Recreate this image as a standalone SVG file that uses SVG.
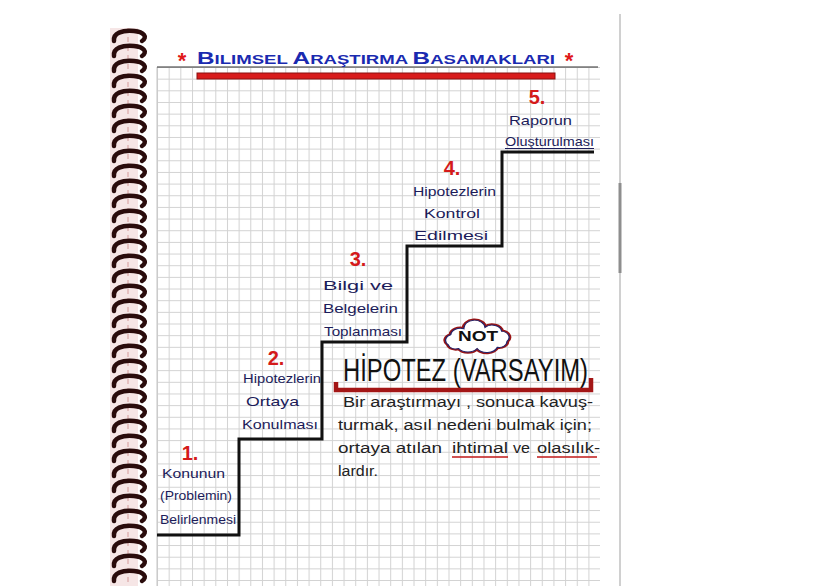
<svg xmlns="http://www.w3.org/2000/svg" width="828" height="586" viewBox="0 0 828 586">
<defs>
<pattern id="grid" x="157" y="67" width="11.66" height="11.66" patternUnits="userSpaceOnUse">
<path d="M0,0.5 H11.66 M0.5,0 V11.66" fill="none" stroke="#d2d2d2" stroke-width="1"/>
</pattern>
<path id="cloud" d="M444,346 a9,9 0 0 1 3,-15 a11,11 0 0 1 15,-9 a12,12 0 0 1 24,-2 a11,11 0 0 1 19,6 a9,9 0 0 1 6,15 a9,9 0 0 1 -11,9 a13,13 0 0 1 -23,2 a13,13 0 0 1 -21,0 a9,9 0 0 1 -12,-6 z"/>
<style>
.lbl{font-family:"Liberation Sans",Arial,sans-serif;font-size:13px;fill:#1c1c5a}
.num{font-family:"Liberation Sans",Arial,sans-serif;font-size:20px;font-weight:bold;fill:#d41a1a}
.par{font-family:"Liberation Sans",Arial,sans-serif;font-size:14px;fill:#222}
.coil{fill:none;stroke:#2a0c0c;stroke-width:4.5;stroke-linecap:round}
</style>
</defs>
<rect width="828" height="586" fill="#fff"/>
<!-- binding strip -->
<rect x="110" y="28" width="28" height="558" fill="#f6e6e6"/>
<line x1="128" y1="28" x2="128" y2="586" stroke="#e0b4b4" stroke-width="1.5" stroke-dasharray="5 4"/>
<!-- grid -->
<rect x="157" y="67" width="443" height="519" fill="url(#grid)"/>
<line x1="157" y1="67" x2="157" y2="586" stroke="#c4c4c4" stroke-width="1"/>
<!-- spiral coils -->
<g id="spiral">
<path class="coil" d="M114,41 C113,33 122,30 134,31 C144,32 148,37 142,41"/>
<path class="coil" d="M114,56 C113,48 122,45 134,46 C144,47 148,52 142,56"/>
<path class="coil" d="M114,71 C113,63 122,60 134,61 C144,62 148,67 142,71"/>
<path class="coil" d="M114,86 C113,78 122,75 134,76 C144,77 148,82 142,86"/>
<path class="coil" d="M114,101 C113,93 122,90 134,91 C144,92 148,97 142,101"/>
<path class="coil" d="M114,116 C113,108 122,105 134,106 C144,107 148,112 142,116"/>
<path class="coil" d="M114,131 C113,123 122,120 134,121 C144,122 148,127 142,131"/>
<path class="coil" d="M114,146 C113,138 122,135 134,136 C144,137 148,142 142,146"/>
<path class="coil" d="M114,161 C113,153 122,150 134,151 C144,152 148,157 142,161"/>
<path class="coil" d="M114,176 C113,168 122,165 134,166 C144,167 148,172 142,176"/>
<path class="coil" d="M114,191 C113,183 122,180 134,181 C144,182 148,187 142,191"/>
<path class="coil" d="M114,206 C113,198 122,195 134,196 C144,197 148,202 142,206"/>
<path class="coil" d="M114,221 C113,213 122,210 134,211 C144,212 148,217 142,221"/>
<path class="coil" d="M114,236 C113,228 122,225 134,226 C144,227 148,232 142,236"/>
<path class="coil" d="M114,251 C113,243 122,240 134,241 C144,242 148,247 142,251"/>
<path class="coil" d="M114,266 C113,258 122,255 134,256 C144,257 148,262 142,266"/>
<path class="coil" d="M114,281 C113,273 122,270 134,271 C144,272 148,277 142,281"/>
<path class="coil" d="M114,296 C113,288 122,285 134,286 C144,287 148,292 142,296"/>
<path class="coil" d="M114,311 C113,303 122,300 134,301 C144,302 148,307 142,311"/>
<path class="coil" d="M114,326 C113,318 122,315 134,316 C144,317 148,322 142,326"/>
<path class="coil" d="M114,341 C113,333 122,330 134,331 C144,332 148,337 142,341"/>
<path class="coil" d="M114,356 C113,348 122,345 134,346 C144,347 148,352 142,356"/>
<path class="coil" d="M114,371 C113,363 122,360 134,361 C144,362 148,367 142,371"/>
<path class="coil" d="M114,386 C113,378 122,375 134,376 C144,377 148,382 142,386"/>
<path class="coil" d="M114,401 C113,393 122,390 134,391 C144,392 148,397 142,401"/>
<path class="coil" d="M114,416 C113,408 122,405 134,406 C144,407 148,412 142,416"/>
<path class="coil" d="M114,431 C113,423 122,420 134,421 C144,422 148,427 142,431"/>
<path class="coil" d="M114,446 C113,438 122,435 134,436 C144,437 148,442 142,446"/>
<path class="coil" d="M114,461 C113,453 122,450 134,451 C144,452 148,457 142,461"/>
<path class="coil" d="M114,476 C113,468 122,465 134,466 C144,467 148,472 142,476"/>
<path class="coil" d="M114,491 C113,483 122,480 134,481 C144,482 148,487 142,491"/>
<path class="coil" d="M114,506 C113,498 122,495 134,496 C144,497 148,502 142,506"/>
<path class="coil" d="M114,521 C113,513 122,510 134,511 C144,512 148,517 142,521"/>
<path class="coil" d="M114,536 C113,528 122,525 134,526 C144,527 148,532 142,536"/>
<path class="coil" d="M114,551 C113,543 122,540 134,541 C144,542 148,547 142,551"/>
<path class="coil" d="M114,566 C113,558 122,555 134,556 C144,557 148,562 142,566"/>
<path class="coil" d="M114,581 C113,573 122,570 134,571 C144,572 148,577 142,581"/>
</g>
<!-- right edge / scrollbar -->
<line x1="620" y1="14" x2="620" y2="586" stroke="#d0d0d0" stroke-width="2"/>
<line x1="620" y1="183" x2="620" y2="273" stroke="#8e8e8e" stroke-width="3"/>
<!-- title -->
<g id="title">
<line x1="157" y1="67" x2="598" y2="67" stroke="#333" stroke-width="1.2"/>
<text x="182" y="68" font-family="Liberation Sans,Arial,sans-serif" font-size="22" font-weight="bold" fill="#e01818" text-anchor="middle">*</text>
<text x="569" y="68" font-family="Liberation Sans,Arial,sans-serif" font-size="22" font-weight="bold" fill="#e01818" text-anchor="middle">*</text>
<text x="197" y="64" font-family="Liberation Sans,Arial,sans-serif" font-weight="bold" fill="#1a2ab0" font-size="13" textLength="358" lengthAdjust="spacingAndGlyphs"><tspan font-size="17">B</tspan>ILIMSEL <tspan font-size="17">A</tspan>RAŞTIRMA <tspan font-size="17">B</tspan>ASAMAKLARI</text>
<rect x="197" y="73" width="358" height="6" fill="#d81c1c" stroke="#8a1010" stroke-width="1"/>
</g>
<!-- staircase -->
<g id="connectors">
<path d="M157,535 H239 V439 H322 V342 H407 V246 H502 V152 H594" fill="none" stroke="#111" stroke-width="3" stroke-linejoin="miter"/>
</g>
<!-- step 1 -->
<g id="step1">
<text class="num" x="190" y="460" text-anchor="middle">1.</text>
<text class="lbl" x="162" y="478" textLength="63" lengthAdjust="spacingAndGlyphs">Konunun</text>
<text class="lbl" x="160" y="500" textLength="72" lengthAdjust="spacingAndGlyphs">(Problemin)</text>
<text class="lbl" x="160" y="524" textLength="76" lengthAdjust="spacingAndGlyphs">Belirlenmesi</text>
</g>
<!-- step 2 -->
<g id="step2">
<text class="num" x="276" y="365" text-anchor="middle">2.</text>
<text class="lbl" x="243" y="383" textLength="78" lengthAdjust="spacingAndGlyphs">Hipotezlerin</text>
<text class="lbl" x="246" y="406" textLength="53" lengthAdjust="spacingAndGlyphs">Ortaya</text>
<text class="lbl" x="242" y="429" textLength="76" lengthAdjust="spacingAndGlyphs">Konulması</text>
</g>
<!-- step 3 -->
<g id="step3">
<text class="num" x="358" y="266" text-anchor="middle">3.</text>
<text class="lbl" x="323" y="290" textLength="70" lengthAdjust="spacingAndGlyphs">Bilgi ve</text>
<text class="lbl" x="323" y="313" textLength="75" lengthAdjust="spacingAndGlyphs">Belgelerin</text>
<text class="lbl" x="324" y="336" textLength="78" lengthAdjust="spacingAndGlyphs">Toplanması</text>
</g>
<!-- step 4 -->
<g id="step4">
<text class="num" x="452" y="175" text-anchor="middle">4.</text>
<text class="lbl" x="413" y="196" textLength="83" lengthAdjust="spacingAndGlyphs">Hipotezlerin</text>
<text class="lbl" x="424" y="218" textLength="56" lengthAdjust="spacingAndGlyphs">Kontrol</text>
<text class="lbl" x="414" y="240" textLength="74" lengthAdjust="spacingAndGlyphs">Edilmesi</text>
</g>
<!-- step 5 -->
<g id="step5">
<text class="num" x="537" y="104" text-anchor="middle">5.</text>
<text class="lbl" x="509" y="125" textLength="63" lengthAdjust="spacingAndGlyphs">Raporun</text>
<text class="lbl" x="505" y="146" textLength="89" lengthAdjust="spacingAndGlyphs">Oluşturulması</text>
<line x1="505" y1="148.5" x2="594" y2="148.5" stroke="#1c1c5a" stroke-width="1"/>
</g>
<!-- NOT cloud -->
<g id="note-badge">
<g transform="translate(478,336) scale(0.88,0.66) translate(-478,-333)">
<use href="#cloud" fill="#fff" stroke="#9a1414" stroke-width="5" vector-effect="non-scaling-stroke"/>
<use href="#cloud" fill="#fff" stroke="#23236a" stroke-width="1.5" vector-effect="non-scaling-stroke"/>
</g>
<text x="478" y="341" text-anchor="middle" font-family="Liberation Sans,Arial,sans-serif" font-size="14" font-weight="bold" fill="#111" textLength="40" lengthAdjust="spacingAndGlyphs">NOT</text>
</g>
<!-- hypothesis note -->
<g id="hypothesis">
<text x="343" y="381" font-family="Liberation Sans,Arial,sans-serif" font-size="31" fill="#111" textLength="245" lengthAdjust="spacingAndGlyphs">HİPOTEZ (VARSAYIM)</text>
<path d="M336,382 V390 H591 V378" fill="none" stroke="#a31616" stroke-width="4.5"/>
<text class="par" x="343" y="407" textLength="250" lengthAdjust="spacingAndGlyphs">Bir araştırmayı , sonuca kavuş-</text>
<text class="par" x="338" y="430" textLength="254" lengthAdjust="spacingAndGlyphs">turmak, asıl nedeni bulmak için;</text>
<text class="par" x="338" y="453" textLength="104" lengthAdjust="spacingAndGlyphs">ortaya atılan</text>
<text class="par" x="452" y="453" textLength="56" lengthAdjust="spacingAndGlyphs">ihtimal</text>
<text class="par" x="513" y="453" textLength="17" lengthAdjust="spacingAndGlyphs">ve</text>
<text class="par" x="537" y="453" textLength="63" lengthAdjust="spacingAndGlyphs">olasılık-</text>
<line x1="452" y1="457" x2="508" y2="457" stroke="#c01818" stroke-width="1.5"/>
<line x1="537" y1="457" x2="597" y2="457" stroke="#c01818" stroke-width="1.5"/>
<text class="par" x="338" y="476" textLength="40" lengthAdjust="spacingAndGlyphs">lardır.</text>
</g>
</svg>
